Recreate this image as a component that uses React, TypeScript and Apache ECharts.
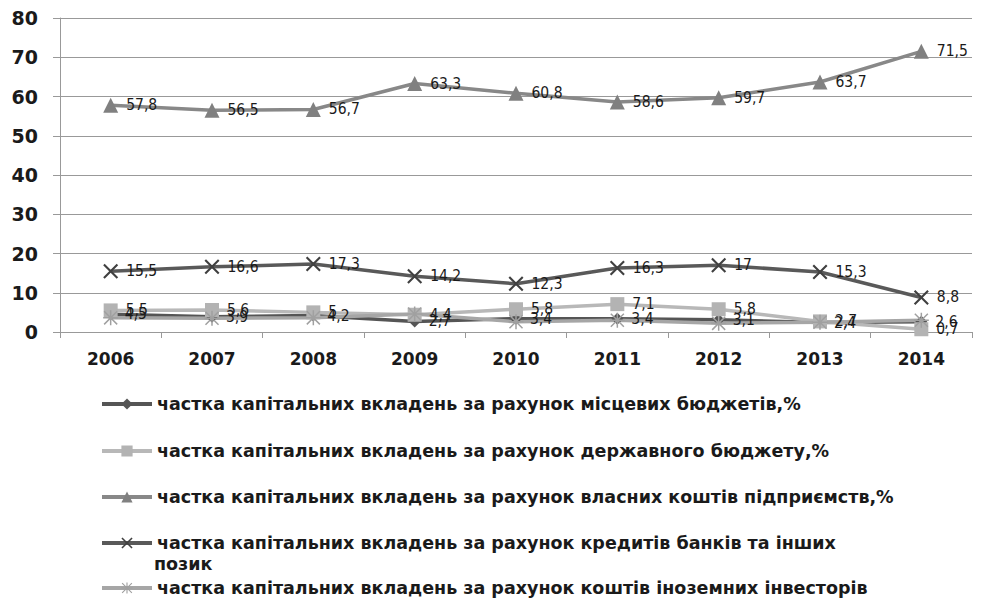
import React, { useEffect, useRef } from "react";
import * as echarts from "echarts";

const years = ["2006", "2007", "2008", "2009", "2010", "2011", "2012", "2013", "2014"];
const localBudget = [4.5, 3.9, 4.2, 2.7, 3.4, 3.4, 3.1, 2.4, 2.6];
const stateBudget = [5.5, 5.6, 5, 4.4, 5.8, 7.1, 5.8, 2.7, 0.7];
const ownFunds = [57.8, 56.5, 56.7, 63.3, 60.8, 58.6, 59.7, 63.7, 71.5];
const bankCredits = [15.5, 16.6, 17.3, 14.2, 12.3, 16.3, 17, 15.3, 8.8];
const foreignInv = [3.6, 3.5, 3.6, 4.6, 2.6, 3.0, 2.2, 2.5, 3.0];

const names = [
  "частка капітальних вкладень за рахунок місцевих бюджетів,%",
  "частка капітальних вкладень за рахунок державного бюджету,%",
  "частка капітальних вкладень за рахунок власних коштів підприємств,%",
  "частка капітальних вкладень за рахунок кредитів банків та інших позик",
  "частка капітальних вкладень за рахунок коштів іноземних інвесторів",
];

const X_PATH = "path://M0,1 L1,0 L5,4 L9,0 L10,1 L6,5 L10,9 L9,10 L5,6 L1,10 L0,9 L4,5 Z";
const STAR_PATH =
  "path://M4.5,0 h1 v10 h-1 Z M0,4.5 h10 v1 h-10 Z M1,0.3 L9.7,9 L9,9.7 L0.3,1 Z M9,0.3 L9.7,1 L1,9.7 L0.3,9 Z";

export default function App() {
  const ref = useRef<HTMLDivElement>(null);
  useEffect(() => {
    if (!ref.current) return;
    const chart = echarts.init(ref.current, undefined, { renderer: "svg" });
    const labelCfg = {
      show: true,
      position: "right" as const,
      distance: 8,
      fontFamily: "'DejaVu Sans Condensed', 'Liberation Sans', sans-serif",
      fontSize: 15.5,
      color: "#1a1a1a",
      formatter: (p: any) => String(p.value).replace(".", ","),
    };
    const legendText = {
      fontFamily: "'DejaVu Sans', sans-serif",
      fontWeight: "bold" as const,
      fontSize: 17.5,
      color: "#1a1a1a",
    };
    const legendTops = [395, 442, 488, 534, 579];
    const option: any = {
      animation: false,
      backgroundColor: "#ffffff",
      grid: { left: 60, right: 13, top: 18, bottom: 279 },
      xAxis: {
        type: "category",
        data: years,
        boundaryGap: true,
        axisLine: { lineStyle: { color: "#999999", width: 1 } },
        axisTick: { show: true, alignWithLabel: false, length: 6, lineStyle: { color: "#999999" } },
        axisLabel: {
          fontFamily: "DejaVu Sans",
          fontWeight: "bold",
          fontSize: 17,
          color: "#1a1a1a",
          margin: 18,
        },
      },
      yAxis: {
        type: "value",
        min: 0,
        max: 80,
        interval: 10,
        axisLine: { show: true, lineStyle: { color: "#999999" } },
        axisTick: { show: true, length: 7, lineStyle: { color: "#999999" } },
        splitLine: { lineStyle: { color: "#999999", width: 1 } },
        axisLabel: {
          fontFamily: "DejaVu Sans",
          fontWeight: "bold",
          fontSize: 19,
          color: "#1a1a1a",
          margin: 22,
        },
      },
      legend: names.map((n, i) => ({
        data: [n],
        left: 100,
        top: legendTops[i],
        padding: 0,
        itemWidth: 50,
        itemHeight: 14,
        lineStyle: { width: 4 },
        textStyle: legendText,
        formatter: (name: string) => (i === 3 ? name.replace(" позик", "") : name),
        selectedMode: false,
      })),
      graphic: [
        {
          type: "text",
          left: 154,
          top: 555,
          style: { text: "позик", fill: "#1a1a1a", font: "bold 17.5px 'DejaVu Sans'" },
        },
      ],
      series: [
        {
          name: names[0],
          type: "line",
          data: localBudget,
          symbol: "diamond",
          symbolSize: 12,
          lineStyle: { color: "#555555", width: 3.5 },
          itemStyle: { color: "#555555" },
          label: labelCfg,
          z: 3,
        },
        {
          name: names[1],
          type: "line",
          data: stateBudget,
          symbol: "rect",
          symbolSize: 14,
          lineStyle: { color: "#b8b8b8", width: 3.5 },
          itemStyle: { color: "#b3b3b3" },
          label: labelCfg,
          z: 3,
        },
        {
          name: names[2],
          type: "line",
          data: ownFunds,
          symbol: "triangle",
          symbolSize: 15,
          lineStyle: { color: "#888888", width: 3.5 },
          itemStyle: { color: "#808080" },
          label: labelCfg,
          z: 3,
        },
        {
          name: names[3],
          type: "line",
          data: bankCredits,
          symbol: X_PATH,
          symbolSize: 15,
          lineStyle: { color: "#595959", width: 3.5 },
          itemStyle: { color: "#404040" },
          label: labelCfg,
          z: 3,
        },
        {
          name: names[4],
          type: "line",
          data: foreignInv,
          symbol: STAR_PATH,
          symbolSize: 15,
          lineStyle: { color: "#a6a6a6", width: 3.5 },
          itemStyle: { color: "#a0a0a0" },
          label: { show: false },
          z: 3,
        },
      ],
    };
    chart.setOption(option);
    return () => chart.dispose();
  }, []);
  return <div ref={ref} style={{ width: 985, height: 611, position: "absolute", left: 0, top: 0 }} />;
}
